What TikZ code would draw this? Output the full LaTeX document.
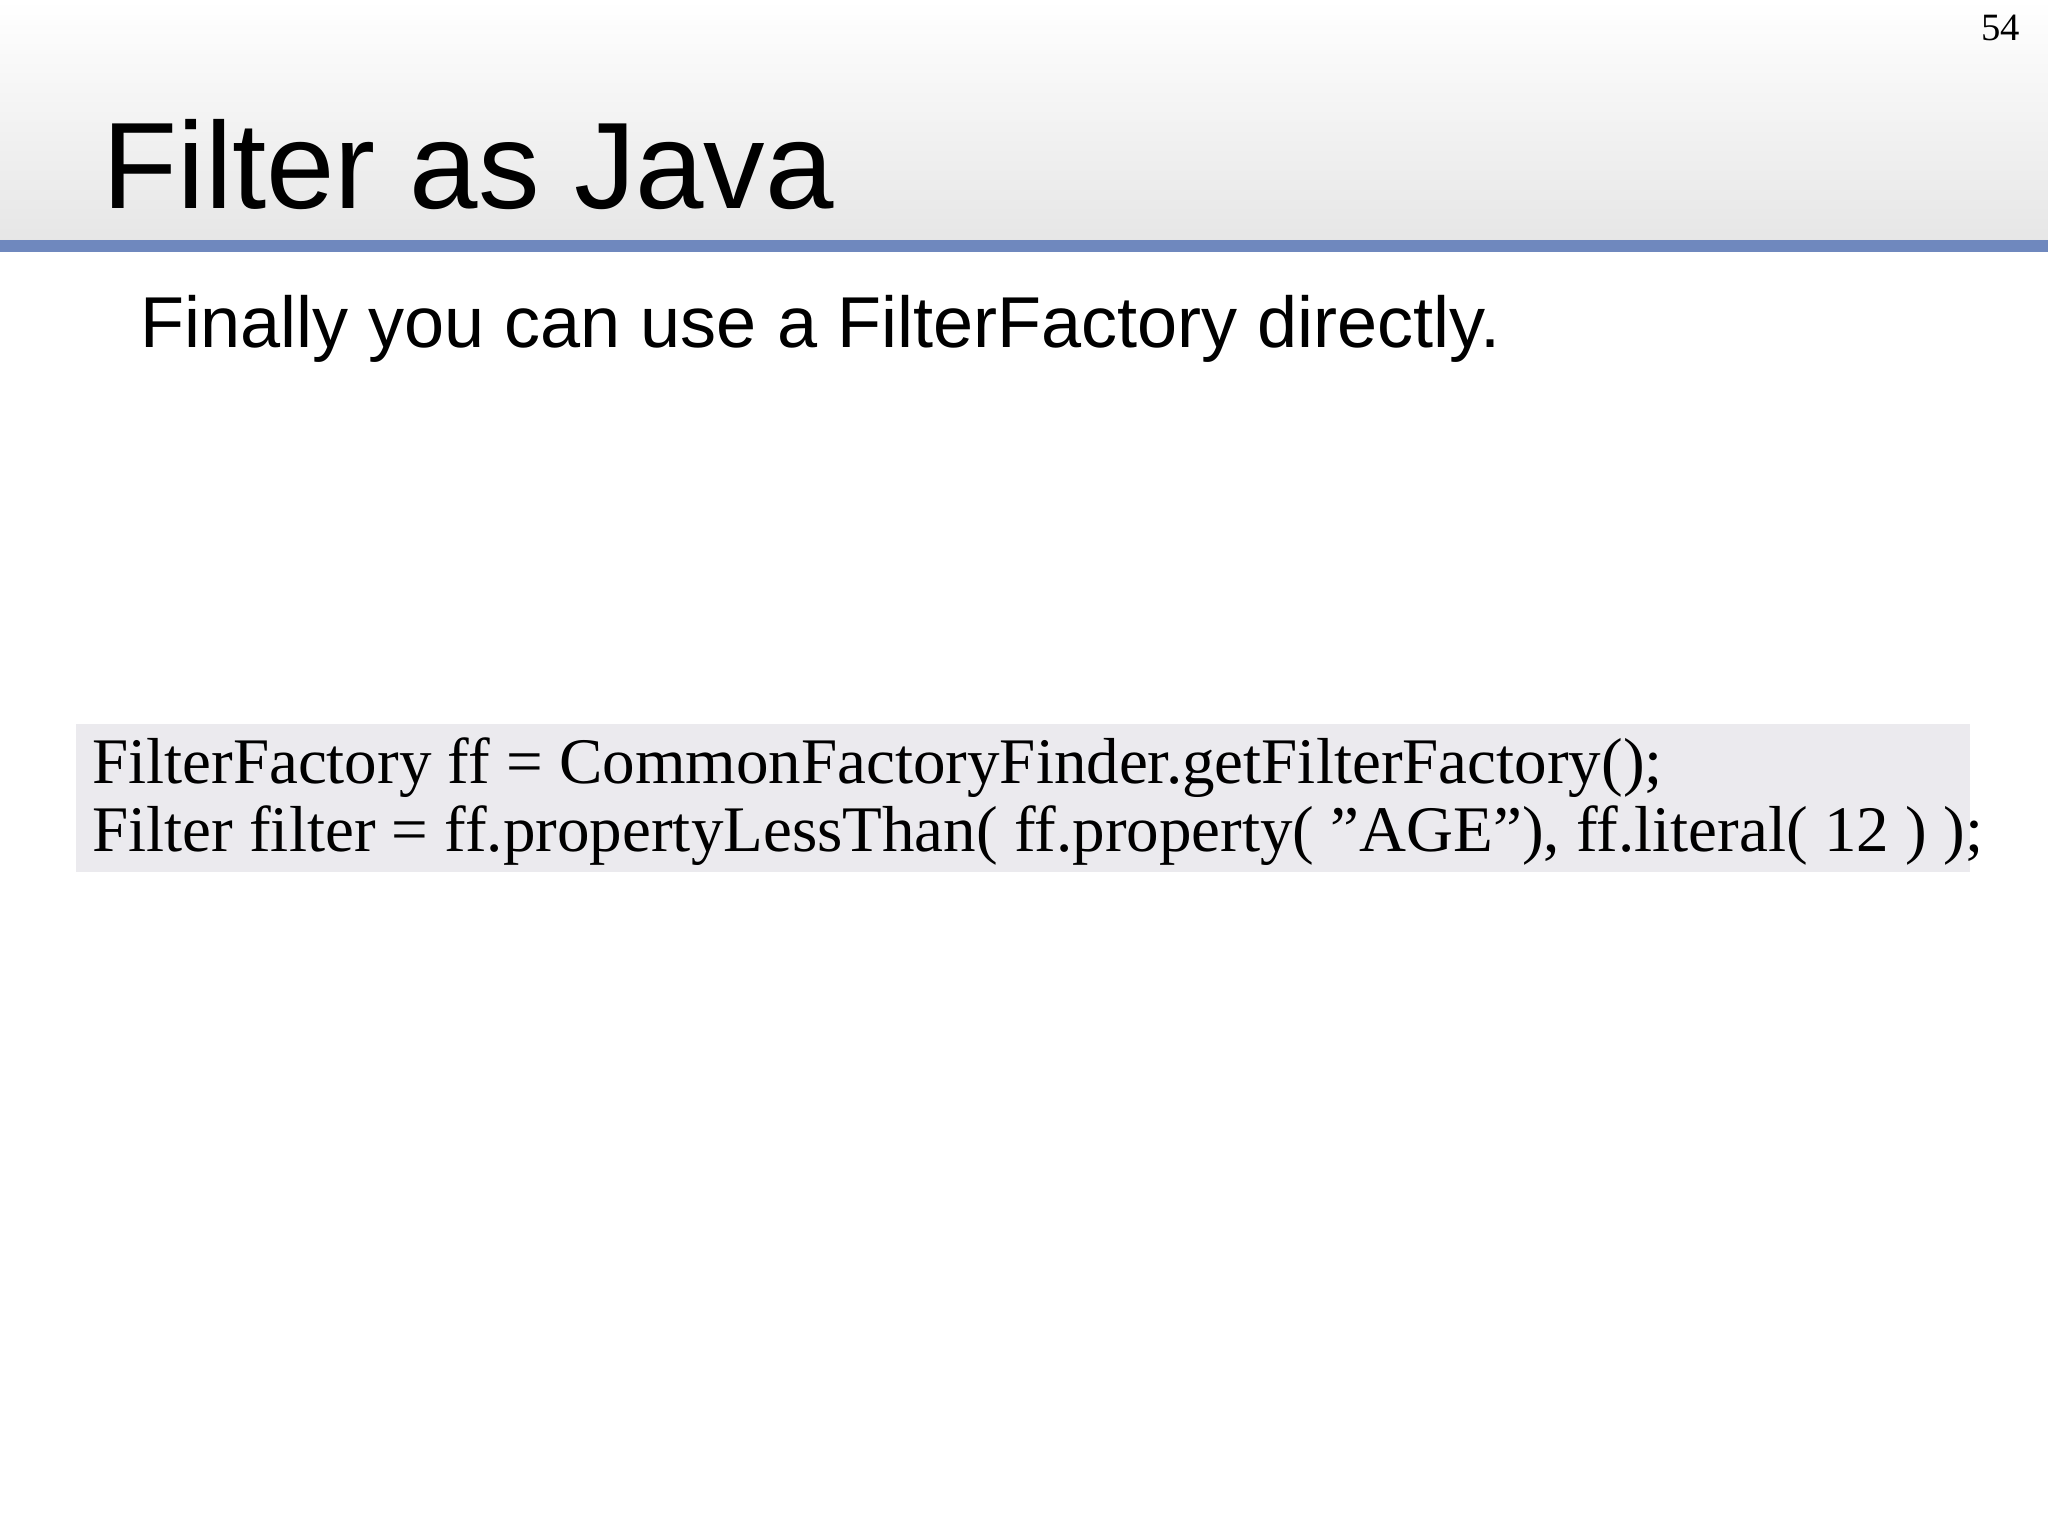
\documentclass[tikz,border=0pt]{standalone}
\usepackage{fontspec}
\setmainfont{Liberation Serif}
\setsansfont{Liberation Sans}
\definecolor{barblue}{HTML}{6F88BE}
\definecolor{codebg}{HTML}{EBEAEE}
\definecolor{headgrey}{HTML}{E6E6E6}
\tikzset{
  title/.style={anchor=base west,inner sep=0pt,font=\sffamily\fontsize{35}{40}\selectfont},
  sub/.style={anchor=base west,inner sep=0pt,font=\sffamily\fontsize{20.5}{24}\selectfont},
  code/.style={anchor=base west,inner sep=0pt,font=\rmfamily\fontsize{18.5}{22}\selectfont},
}
\begin{document}
\begin{tikzpicture}[x=0.01306cm,y=-0.01306cm]
\useasboundingbox (0,0) rectangle (1568,1176);
\fill[white] (0,0) rectangle (1568,1176);
\shade[top color=white,bottom color=headgrey] (0,0) rectangle (1568,186);
\fill[barblue] (0,184) rectangle (1568,193);
\node[anchor=base east,inner sep=0pt,font=\rmfamily\fontsize{11}{13}\selectfont] (pg) at (1547,31) {54};
\node[title] (t) at (78,160) {Filter as Java};
\node[sub] (s) at (107,266) {Finally you can use a FilterFactory directly.};
\fill[codebg] (58,554) rectangle (1508,668);
\node[code] (c1) at (70,600) {FilterFactory ff = CommonFactoryFinder.getFilterFactory();};
\node[code] (c2) at (70,652) {Filter filter = ff.propertyLessThan( ff.property( "AGE"), ff.literal( 12 ) );};
\end{tikzpicture}
\end{document}
